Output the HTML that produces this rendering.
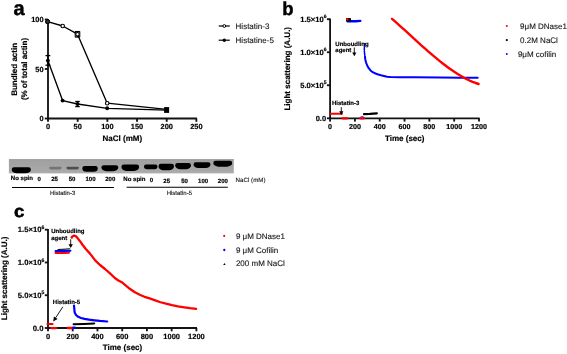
<!DOCTYPE html>
<html><head><meta charset="utf-8"><style>
html,body{margin:0;padding:0;background:#fff;width:567px;height:354px;overflow:hidden}
svg{display:block;will-change:transform;font-family:"Liberation Sans", sans-serif;text-rendering:geometricPrecision}
</style></head><body>
<svg width="567" height="354" viewBox="0 0 567 354">
<text x="13.6" y="15.3" font-size="20" font-weight="bold" text-anchor="start" fill="#000" stroke="#000" stroke-width="0.45">a</text>
<line x1="48.0" y1="18.9" x2="48.0" y2="119.1" stroke="#131313" stroke-width="1.85" />
<line x1="47.4" y1="118.5" x2="196.97499999999997" y2="118.5" stroke="#131313" stroke-width="1.85" />
<line x1="44.8" y1="118.5" x2="48.0" y2="118.5" stroke="#131313" stroke-width="1.85" />
<text x="43.6" y="121.2" font-size="7.4" font-weight="bold" text-anchor="end" fill="#000"  stroke="#000" stroke-width="0.18">0</text>
<line x1="44.8" y1="69.0" x2="48.0" y2="69.0" stroke="#131313" stroke-width="1.85" />
<text x="43.6" y="71.7" font-size="7.4" font-weight="bold" text-anchor="end" fill="#000"  stroke="#000" stroke-width="0.18">50</text>
<line x1="44.8" y1="19.5" x2="48.0" y2="19.5" stroke="#131313" stroke-width="1.85" />
<text x="43.6" y="22.2" font-size="7.4" font-weight="bold" text-anchor="end" fill="#000"  stroke="#000" stroke-width="0.18">100</text>
<line x1="48.0" y1="118.5" x2="48.0" y2="121.8" stroke="#131313" stroke-width="1.85" />
<text x="48.0" y="128.9" font-size="7.4" font-weight="bold" text-anchor="middle" fill="#000"  stroke="#000" stroke-width="0.18">0</text>
<line x1="77.675" y1="118.5" x2="77.675" y2="121.8" stroke="#131313" stroke-width="1.85" />
<text x="77.675" y="128.9" font-size="7.4" font-weight="bold" text-anchor="middle" fill="#000"  stroke="#000" stroke-width="0.18">50</text>
<line x1="107.35" y1="118.5" x2="107.35" y2="121.8" stroke="#131313" stroke-width="1.85" />
<text x="107.35" y="128.9" font-size="7.4" font-weight="bold" text-anchor="middle" fill="#000"  stroke="#000" stroke-width="0.18">100</text>
<line x1="137.02499999999998" y1="118.5" x2="137.02499999999998" y2="121.8" stroke="#131313" stroke-width="1.85" />
<text x="137.02499999999998" y="128.9" font-size="7.4" font-weight="bold" text-anchor="middle" fill="#000"  stroke="#000" stroke-width="0.18">150</text>
<line x1="166.7" y1="118.5" x2="166.7" y2="121.8" stroke="#131313" stroke-width="1.85" />
<text x="166.7" y="128.9" font-size="7.4" font-weight="bold" text-anchor="middle" fill="#000"  stroke="#000" stroke-width="0.18">200</text>
<line x1="196.37499999999997" y1="118.5" x2="196.37499999999997" y2="121.8" stroke="#131313" stroke-width="1.85" />
<text x="196.37499999999997" y="128.9" font-size="7.4" font-weight="bold" text-anchor="middle" fill="#000"  stroke="#000" stroke-width="0.18">250</text>
<text x="122.3" y="140.6" font-size="8" font-weight="bold" text-anchor="middle" fill="#000"  stroke="#000" stroke-width="0.18">NaCl (mM)</text>
<text transform="translate(17.3,69.4) rotate(-90)" font-size="8" font-weight="bold" text-anchor="middle" stroke="#000" stroke-width="0.18">Bundled actin</text>
<text transform="translate(27.0,69.0) rotate(-90)" font-size="8" font-weight="bold" text-anchor="middle" stroke="#000" stroke-width="0.18">(% of total actin)</text>
<polyline points="47.60,21.70 62.70,26.00 77.50,34.20 107.20,103.20 166.60,109.40" fill="none" stroke="#000" stroke-width="1.35" stroke-linejoin="round" stroke-linecap="round" />
<polyline points="47.90,60.60 62.60,100.60 77.50,104.00 107.20,108.30 166.60,110.20" fill="none" stroke="#000" stroke-width="1.35" stroke-linejoin="round" stroke-linecap="round" />
<line x1="47.9" y1="55.6" x2="47.9" y2="65.2" stroke="#000" stroke-width="1.3" />
<line x1="45.5" y1="55.6" x2="50.3" y2="55.6" stroke="#000" stroke-width="1.3" />
<line x1="45.5" y1="65.2" x2="50.3" y2="65.2" stroke="#000" stroke-width="1.3" />
<line x1="77.5" y1="101.5" x2="77.5" y2="106.6" stroke="#000" stroke-width="1.3" />
<line x1="75.25" y1="101.5" x2="79.75" y2="101.5" stroke="#000" stroke-width="1.3" />
<line x1="75.25" y1="106.6" x2="79.75" y2="106.6" stroke="#000" stroke-width="1.3" />
<line x1="77.5" y1="31.6" x2="77.5" y2="37.0" stroke="#000" stroke-width="1.3" />
<line x1="75.1" y1="31.6" x2="79.9" y2="31.6" stroke="#000" stroke-width="1.3" />
<line x1="75.1" y1="37.0" x2="79.9" y2="37.0" stroke="#000" stroke-width="1.3" />
<line x1="75.2" y1="31.4" x2="75.2" y2="37.2" stroke="#000" stroke-width="1.0" />
<line x1="79.8" y1="31.4" x2="79.8" y2="37.2" stroke="#000" stroke-width="1.0" />
<circle cx="47.6" cy="21.7" r="1.75" fill="#fff" stroke="#000" stroke-width="1.15"/>
<circle cx="62.7" cy="26.0" r="1.75" fill="#fff" stroke="#000" stroke-width="1.15"/>
<circle cx="77.5" cy="34.2" r="1.75" fill="#fff" stroke="#000" stroke-width="1.15"/>
<circle cx="107.2" cy="103.2" r="1.75" fill="#fff" stroke="#000" stroke-width="1.15"/>
<circle cx="47.6" cy="21.7" r="2.0" fill="#333" stroke="#000" stroke-width="1"/>
<circle cx="47.9" cy="60.6" r="1.95" fill="#000"/>
<circle cx="62.6" cy="100.6" r="1.95" fill="#000"/>
<circle cx="77.5" cy="104.0" r="1.95" fill="#000"/>
<circle cx="107.2" cy="108.3" r="1.95" fill="#000"/>
<rect x="164.1" y="107.1" width="5.0" height="5.8" fill="#000"/>
<line x1="218.7" y1="26" x2="229.8" y2="26" stroke="#000" stroke-width="1.2" />
<circle cx="224.3" cy="26" r="1.4" fill="#fff" stroke="#000" stroke-width="1.0"/>
<line x1="218.7" y1="40.2" x2="229.8" y2="40.2" stroke="#000" stroke-width="1.2" />
<circle cx="224.3" cy="40.2" r="1.7" fill="#000"/>
<text x="235.6" y="29.1" font-size="8" font-weight="normal" text-anchor="start" fill="#151515"  stroke="#151515" stroke-width="0.12">Histatin-3</text>
<text x="235.6" y="42.8" font-size="8" font-weight="normal" text-anchor="start" fill="#151515"  stroke="#151515" stroke-width="0.12">Histatine-5</text>
<defs><filter id="gb" x="-20%" y="-50%" width="140%" height="200%"><feGaussianBlur stdDeviation="0.75"/></filter><linearGradient id="gg" x1="0" y1="0" x2="0" y2="1"><stop offset="0" stop-color="#959595"/><stop offset="0.12" stop-color="#a2a2a2"/><stop offset="0.3" stop-color="#a2a2a2"/><stop offset="0.85" stop-color="#a9a9a9"/><stop offset="1" stop-color="#aeaeae"/></linearGradient></defs>
<rect x="8.9" y="159.1" width="224.9" height="14.3" fill="url(#gg)"/>
<g filter="url(#gb)">
<path d="M14.10,167.30 L28.50,167.30 Q30.90,167.30 30.90,169.70 A5.38,3.65 0 0 1 25.52,173.35 L17.08,173.35 A5.38,3.65 0 0 1 11.70,169.70 Q11.70,167.30 14.10,167.30 Z" fill="#050505"/>
<path d="M50.16,166.80 L60.54,166.80 Q61.60,166.80 61.60,167.86 A2.00,1.59 0 0 1 59.60,169.45 L51.10,169.45 A2.00,1.59 0 0 1 49.10,167.86 Q49.10,166.80 50.16,166.80 Z" fill="#757575"/>
<path d="M67.54,166.70 L77.76,166.70 Q78.90,166.70 78.90,167.84 A2.00,1.71 0 0 1 76.90,169.55 L68.40,169.55 A2.00,1.71 0 0 1 66.40,167.84 Q66.40,166.70 67.54,166.70 Z" fill="#505050"/>
<path d="M84.68,165.90 L95.42,165.90 Q97.80,165.90 97.80,168.28 A4.34,3.57 0 0 1 93.46,171.85 L86.64,171.85 A4.34,3.57 0 0 1 82.30,168.28 Q82.30,165.90 84.68,165.90 Z" fill="#050505"/>
<path d="M103.78,165.20 L115.92,165.20 Q118.30,165.20 118.30,167.58 A4.73,3.57 0 0 1 113.57,171.15 L106.13,171.15 A4.73,3.57 0 0 1 101.40,167.58 Q101.40,165.20 103.78,165.20 Z" fill="#050505"/>
<path d="M123.80,164.60 L136.70,164.60 Q139.10,164.60 139.10,167.00 A4.96,3.95 0 0 1 134.14,170.95 L126.36,170.95 A4.96,3.95 0 0 1 121.40,167.00 Q121.40,164.60 123.80,164.60 Z" fill="#050505"/>
<path d="M145.82,164.60 L155.68,164.60 Q157.50,164.60 157.50,166.42 A3.00,2.73 0 0 1 154.50,169.15 L147.00,169.15 A3.00,2.73 0 0 1 144.00,166.42 Q144.00,164.60 145.82,164.60 Z" fill="#050505"/>
<path d="M160.90,163.80 L171.60,163.80 Q174.00,163.80 174.00,166.20 A4.34,3.95 0 0 1 169.66,170.15 L162.84,170.15 A4.34,3.95 0 0 1 158.50,166.20 Q158.50,163.80 160.90,163.80 Z" fill="#050505"/>
<path d="M177.60,162.90 L188.60,162.90 Q191.00,162.90 191.00,165.30 A4.42,3.85 0 0 1 186.58,169.15 L179.62,169.15 A4.42,3.85 0 0 1 175.20,165.30 Q175.20,162.90 177.60,162.90 Z" fill="#050505"/>
<path d="M195.80,162.20 L208.20,162.20 Q210.50,162.20 210.50,164.50 A4.76,3.45 0 0 1 205.74,167.95 L198.26,167.95 A4.76,3.45 0 0 1 193.50,164.50 Q193.50,162.20 195.80,162.20 Z" fill="#050505"/>
<path d="M215.64,160.80 L229.86,160.80 Q232.20,160.80 232.20,163.14 A5.29,3.51 0 0 1 226.91,166.65 L218.59,166.65 A5.29,3.51 0 0 1 213.30,163.14 Q213.30,160.80 215.64,160.80 Z" fill="#050505"/>
</g>
<text x="21.9" y="180.2" font-size="6.05" font-weight="bold" text-anchor="middle" fill="#000"  stroke="#000" stroke-width="0.18">No spin</text>
<text x="39.3" y="180.8" font-size="6.05" font-weight="bold" text-anchor="middle" fill="#000"  stroke="#000" stroke-width="0.18">0</text>
<text x="54.5" y="181.4" font-size="6.05" font-weight="bold" text-anchor="middle" fill="#000"  stroke="#000" stroke-width="0.18">25</text>
<text x="72.1" y="181.4" font-size="6.05" font-weight="bold" text-anchor="middle" fill="#000"  stroke="#000" stroke-width="0.18">50</text>
<text x="90.5" y="181.4" font-size="6.05" font-weight="bold" text-anchor="middle" fill="#000"  stroke="#000" stroke-width="0.18">100</text>
<text x="110.3" y="181.4" font-size="6.05" font-weight="bold" text-anchor="middle" fill="#000"  stroke="#000" stroke-width="0.18">200</text>
<text x="134.4" y="180.8" font-size="6.05" font-weight="bold" text-anchor="middle" fill="#000"  stroke="#000" stroke-width="0.18">No spin</text>
<text x="151.4" y="181.5" font-size="6.05" font-weight="bold" text-anchor="middle" fill="#000"  stroke="#000" stroke-width="0.18">0</text>
<text x="166.7" y="182.5" font-size="6.05" font-weight="bold" text-anchor="middle" fill="#000"  stroke="#000" stroke-width="0.18">25</text>
<text x="184.5" y="182.5" font-size="6.05" font-weight="bold" text-anchor="middle" fill="#000"  stroke="#000" stroke-width="0.18">50</text>
<text x="203.1" y="182.5" font-size="6.05" font-weight="bold" text-anchor="middle" fill="#000"  stroke="#000" stroke-width="0.18">100</text>
<text x="222.9" y="182.5" font-size="6.05" font-weight="bold" text-anchor="middle" fill="#000"  stroke="#000" stroke-width="0.18">200</text>
<text x="235.6" y="182.2" font-size="6.2" font-weight="normal" text-anchor="start" fill="#151515"  stroke="#151515" stroke-width="0.12">NaCl (mM)</text>
<line x1="12" y1="187.5" x2="113.9" y2="187.5" stroke="#000" stroke-width="1.1" />
<line x1="126.6" y1="187.3" x2="227.8" y2="187.3" stroke="#000" stroke-width="1.1" />
<text x="62.6" y="195.2" font-size="6" font-weight="normal" text-anchor="middle" fill="#151515"  stroke="#151515" stroke-width="0.12">Histatin-3</text>
<text x="179.3" y="195.2" font-size="6" font-weight="normal" text-anchor="middle" fill="#151515"  stroke="#151515" stroke-width="0.12">Histatin-5</text>
<text x="282.2" y="14.7" font-size="18.5" font-weight="bold" text-anchor="start" fill="#000" stroke="#000" stroke-width="0.45">b</text>
<line x1="330.1" y1="18.599999999999998" x2="330.1" y2="118.89999999999999" stroke="#131313" stroke-width="1.85" />
<line x1="329.5" y1="118.3" x2="479.6" y2="118.3" stroke="#131313" stroke-width="1.85" />
<line x1="326.90000000000003" y1="19.19999999999999" x2="330.1" y2="19.19999999999999" stroke="#131313" stroke-width="1.85" />
<text x="326.5" y="21.69999999999999" font-size="7.6" font-weight="bold" text-anchor="end" stroke="#000" stroke-width="0.18">1.5×10<tspan font-size="5.02" dy="-3.5">6</tspan></text>
<line x1="326.90000000000003" y1="52.233333333333334" x2="330.1" y2="52.233333333333334" stroke="#131313" stroke-width="1.85" />
<text x="326.5" y="54.733333333333334" font-size="7.6" font-weight="bold" text-anchor="end" stroke="#000" stroke-width="0.18">1.0×10<tspan font-size="5.02" dy="-3.5">6</tspan></text>
<line x1="326.90000000000003" y1="85.26666666666667" x2="330.1" y2="85.26666666666667" stroke="#131313" stroke-width="1.85" />
<text x="326.5" y="87.76666666666667" font-size="7.6" font-weight="bold" text-anchor="end" stroke="#000" stroke-width="0.18">5.0×10<tspan font-size="5.02" dy="-3.5">5</tspan></text>
<line x1="326.90000000000003" y1="118.3" x2="330.1" y2="118.3" stroke="#131313" stroke-width="1.85" />
<text x="326.1" y="121.1" font-size="7.5" font-weight="bold" text-anchor="end" fill="#000"  stroke="#000" stroke-width="0.18">0.0</text>
<line x1="330.1" y1="118.3" x2="330.1" y2="121.6" stroke="#131313" stroke-width="1.85" />
<text x="330.1" y="129.3" font-size="7.2" font-weight="bold" text-anchor="middle" fill="#000"  stroke="#000" stroke-width="0.18">0</text>
<line x1="354.9166666666667" y1="118.3" x2="354.9166666666667" y2="121.6" stroke="#131313" stroke-width="1.85" />
<text x="354.9166666666667" y="129.3" font-size="7.2" font-weight="bold" text-anchor="middle" fill="#000"  stroke="#000" stroke-width="0.18">200</text>
<line x1="379.73333333333335" y1="118.3" x2="379.73333333333335" y2="121.6" stroke="#131313" stroke-width="1.85" />
<text x="379.73333333333335" y="129.3" font-size="7.2" font-weight="bold" text-anchor="middle" fill="#000"  stroke="#000" stroke-width="0.18">400</text>
<line x1="404.55" y1="118.3" x2="404.55" y2="121.6" stroke="#131313" stroke-width="1.85" />
<text x="404.55" y="129.3" font-size="7.2" font-weight="bold" text-anchor="middle" fill="#000"  stroke="#000" stroke-width="0.18">600</text>
<line x1="429.3666666666667" y1="118.3" x2="429.3666666666667" y2="121.6" stroke="#131313" stroke-width="1.85" />
<text x="429.3666666666667" y="129.3" font-size="7.2" font-weight="bold" text-anchor="middle" fill="#000"  stroke="#000" stroke-width="0.18">800</text>
<line x1="454.18333333333334" y1="118.3" x2="454.18333333333334" y2="121.6" stroke="#131313" stroke-width="1.85" />
<text x="454.18333333333334" y="129.3" font-size="7.2" font-weight="bold" text-anchor="middle" fill="#000"  stroke="#000" stroke-width="0.18">1000</text>
<line x1="479.0" y1="118.3" x2="479.0" y2="121.6" stroke="#131313" stroke-width="1.85" />
<text x="479.0" y="129.3" font-size="7.2" font-weight="bold" text-anchor="middle" fill="#000"  stroke="#000" stroke-width="0.18">1200</text>
<text x="404.7" y="140.5" font-size="8" font-weight="bold" text-anchor="middle" fill="#000"  stroke="#000" stroke-width="0.18">Time (sec)</text>
<text transform="translate(290.3,68.75) rotate(-90)" font-size="8" font-weight="bold" text-anchor="middle" stroke="#000" stroke-width="0.18">Light scattering (A.U.)</text>
<polyline points="330.60,113.80 341.90,113.80" fill="none" stroke="#f00" stroke-width="2.1" stroke-linejoin="round" stroke-linecap="round" stroke-linecap="butt"/>
<polyline points="342.60,118.30 347.20,118.30" fill="none" stroke="#f00" stroke-width="2.2" stroke-linejoin="round" stroke-linecap="round" stroke-linecap="round"/>
<polyline points="360.40,118.30 363.60,118.30" fill="none" stroke="#f00" stroke-width="2.5" stroke-linejoin="round" stroke-linecap="round" stroke-linecap="round"/>
<polyline points="361.20,116.70 363.00,116.70" fill="none" stroke="#5050ff" stroke-width="1.3" stroke-linejoin="round" stroke-linecap="round" stroke-linecap="round"/>
<polyline points="364.00,114.10 370.00,113.90 376.80,113.40" fill="none" stroke="#000" stroke-width="2.2" stroke-linejoin="round" stroke-linecap="round" />
<polyline points="347.60,21.30 356.00,21.20 360.30,20.90" fill="none" stroke="#00f" stroke-width="2.4" stroke-linejoin="round" stroke-linecap="round" stroke-linecap="round"/>
<rect x="346" y="18" width="5" height="3.4" rx="0.6" fill="#000"/>
<circle cx="347.3" cy="19.3" r="1.2" fill="#f00"/>
<polyline points="365.00,57.00 365.40,60.00 366.10,62.60 367.20,65.50 368.70,68.20 370.50,70.40 372.70,72.20 375.50,73.50 378.30,74.50 381.00,75.30 384.00,76.00 387.00,76.70 390.30,77.10 400.00,77.30 415.00,77.30 440.00,77.50 460.00,77.70 477.70,77.80" fill="none" stroke="#00f" stroke-width="2.0" stroke-linejoin="round" stroke-linecap="round" />
<polyline points="365.00,43.60 364.50,46.00 364.30,49.00 364.40,52.00 364.80,55.00 365.00,57.50" fill="none" stroke="#00f" stroke-width="1.6" stroke-linejoin="round" stroke-linecap="round" stroke-dasharray="1.5 0.9" stroke-linecap="butt"/>
<polyline points="392.00,18.84 394.99,21.45 397.97,24.10 400.96,26.78 403.94,29.48 406.93,32.20 409.92,34.92 412.90,37.65 415.89,40.37 418.88,43.08 421.86,45.77 424.85,48.43 427.83,51.06 430.82,53.65 433.81,56.19 436.79,58.68 439.78,61.11 442.77,63.47 445.75,65.76 448.74,67.96 451.72,70.08 454.71,72.10 457.70,74.01 460.68,75.82 463.67,77.52 466.66,79.09 469.64,80.53 472.63,81.83 475.61,82.99 478.60,83.99" fill="none" stroke="#f00" stroke-width="2.4" stroke-linejoin="round" stroke-linecap="round" />
<text x="335.3" y="45.6" font-size="6" font-weight="bold" text-anchor="start" fill="#000"  stroke="#000" stroke-width="0.18">Unboudling</text>
<text x="335.3" y="52.2" font-size="6" font-weight="bold" text-anchor="start" fill="#000"  stroke="#000" stroke-width="0.18">agent</text>
<line x1="354.3" y1="47.5" x2="354.3" y2="53.5" stroke="#000" stroke-width="0.9" />
<path d="M352.2,52.5 L356.4,52.5 L354.3,56.2 Z" fill="#000"/>
<text x="332" y="104.8" font-size="6" font-weight="bold" text-anchor="start" fill="#000"  stroke="#000" stroke-width="0.18">Histatin-3</text>
<line x1="341.3" y1="107.2" x2="341.3" y2="112" stroke="#000" stroke-width="0.9" />
<path d="M339.2,111.3 L343.4,111.3 L341.3,115 Z" fill="#000"/>
<circle cx="506.8" cy="25.9" r="1.0" fill="#f00"/>
<circle cx="506.8" cy="40.1" r="1.1" fill="#000"/>
<circle cx="506.8" cy="54.0" r="0.95" fill="#00f"/>
<text x="520.1" y="29.0" font-size="8" font-weight="normal" text-anchor="start" fill="#151515"  stroke="#151515" stroke-width="0.12">9μM DNase1</text>
<text x="520.1" y="42.8" font-size="8" font-weight="normal" text-anchor="start" fill="#151515"  stroke="#151515" stroke-width="0.12">0.2M NaCl</text>
<text x="517.9" y="56.6" font-size="8" font-weight="normal" text-anchor="start" fill="#151515"  stroke="#151515" stroke-width="0.12">9μM cofilin</text>
<text x="14.0" y="217.2" font-size="17" font-weight="bold" stroke="#000" stroke-width="0.55" transform="translate(14,0) scale(1.1,1) translate(-14,0)">c</text>
<line x1="48.0" y1="229.1" x2="48.0" y2="328.6" stroke="#131313" stroke-width="1.85" />
<line x1="47.4" y1="328.0" x2="197.0" y2="328.0" stroke="#131313" stroke-width="1.85" />
<line x1="44.8" y1="229.7" x2="48.0" y2="229.7" stroke="#131313" stroke-width="1.85" />
<text x="44.4" y="232.29999999999998" font-size="7.7" font-weight="bold" text-anchor="end" stroke="#000" stroke-width="0.18">1.5×10<tspan font-size="5.08" dy="-3.5">6</tspan></text>
<line x1="44.8" y1="262.46666666666664" x2="48.0" y2="262.46666666666664" stroke="#131313" stroke-width="1.85" />
<text x="44.4" y="265.06666666666666" font-size="7.7" font-weight="bold" text-anchor="end" stroke="#000" stroke-width="0.18">1.0×10<tspan font-size="5.08" dy="-3.5">6</tspan></text>
<line x1="44.8" y1="295.23333333333335" x2="48.0" y2="295.23333333333335" stroke="#131313" stroke-width="1.85" />
<text x="44.4" y="297.83333333333337" font-size="7.7" font-weight="bold" text-anchor="end" stroke="#000" stroke-width="0.18">5.0×10<tspan font-size="5.08" dy="-3.5">5</tspan></text>
<line x1="44.8" y1="328.0" x2="48.0" y2="328.0" stroke="#131313" stroke-width="1.85" />
<text x="43.5" y="330.8" font-size="7.7" font-weight="bold" text-anchor="end" fill="#000"  stroke="#000" stroke-width="0.18">0.0</text>
<line x1="48.0" y1="328.0" x2="48.0" y2="331.3" stroke="#131313" stroke-width="1.85" />
<text x="48.0" y="338.7" font-size="7.5" font-weight="bold" text-anchor="middle" fill="#000"  stroke="#000" stroke-width="0.18">0</text>
<line x1="72.73333333333333" y1="328.0" x2="72.73333333333333" y2="331.3" stroke="#131313" stroke-width="1.85" />
<text x="72.73333333333333" y="338.7" font-size="7.5" font-weight="bold" text-anchor="middle" fill="#000"  stroke="#000" stroke-width="0.18">200</text>
<line x1="97.46666666666667" y1="328.0" x2="97.46666666666667" y2="331.3" stroke="#131313" stroke-width="1.85" />
<text x="97.46666666666667" y="338.7" font-size="7.5" font-weight="bold" text-anchor="middle" fill="#000"  stroke="#000" stroke-width="0.18">400</text>
<line x1="122.2" y1="328.0" x2="122.2" y2="331.3" stroke="#131313" stroke-width="1.85" />
<text x="122.2" y="338.7" font-size="7.5" font-weight="bold" text-anchor="middle" fill="#000"  stroke="#000" stroke-width="0.18">600</text>
<line x1="146.93333333333334" y1="328.0" x2="146.93333333333334" y2="331.3" stroke="#131313" stroke-width="1.85" />
<text x="146.93333333333334" y="338.7" font-size="7.5" font-weight="bold" text-anchor="middle" fill="#000"  stroke="#000" stroke-width="0.18">800</text>
<line x1="171.66666666666669" y1="328.0" x2="171.66666666666669" y2="331.3" stroke="#131313" stroke-width="1.85" />
<text x="171.66666666666669" y="338.7" font-size="7.5" font-weight="bold" text-anchor="middle" fill="#000"  stroke="#000" stroke-width="0.18">1000</text>
<line x1="196.4" y1="328.0" x2="196.4" y2="331.3" stroke="#131313" stroke-width="1.85" />
<text x="196.4" y="338.7" font-size="7.5" font-weight="bold" text-anchor="middle" fill="#000"  stroke="#000" stroke-width="0.18">1200</text>
<text x="122.5" y="349.6" font-size="8" font-weight="bold" text-anchor="middle" fill="#000"  stroke="#000" stroke-width="0.18">Time (sec)</text>
<text transform="translate(7.1,278.4) rotate(-90)" font-size="8" font-weight="bold" text-anchor="middle" stroke="#000" stroke-width="0.18">Light scattering (A.U.)</text>
<polyline points="47.40,323.90 52.60,323.90" fill="none" stroke="#f00" stroke-width="2.0" stroke-linejoin="round" stroke-linecap="round" stroke-linecap="round"/>
<polyline points="51.20,328.10 56.20,328.10" fill="none" stroke="#f00" stroke-width="2.1" stroke-linejoin="round" stroke-linecap="round" stroke-linecap="round"/>
<polyline points="67.80,328.00 72.80,328.00" fill="none" stroke="#f00" stroke-width="2.3" stroke-linejoin="round" stroke-linecap="round" stroke-linecap="round"/>
<polyline points="73.40,327.80 74.80,327.80" fill="none" stroke="#00f" stroke-width="2.4" stroke-linejoin="round" stroke-linecap="round" stroke-linecap="round"/>
<polyline points="73.60,324.20 84.00,323.90 94.20,323.40" fill="none" stroke="#000" stroke-width="2.0" stroke-linejoin="round" stroke-linecap="round" />
<polyline points="74.00,305.50 74.30,309.00 74.70,312.60 76.00,315.00 78.20,316.80 81.00,318.00 84.60,318.90 89.00,319.70 94.50,320.30 100.00,320.90 107.20,321.50" fill="none" stroke="#00f" stroke-width="2.2" stroke-linejoin="round" stroke-linecap="round" />
<polyline points="55.60,252.80 60.00,252.90 64.00,252.80 68.80,252.70" fill="none" stroke="#f00" stroke-width="2.3" stroke-linejoin="round" stroke-linecap="round" />
<polyline points="55.60,251.00 60.00,251.00 64.00,250.90 70.40,250.80" fill="none" stroke="#00f" stroke-width="2.1" stroke-linejoin="round" stroke-linecap="round" />
<polyline points="58.00,249.50 64.00,249.20 69.80,248.80" fill="none" stroke="#000" stroke-width="1.0" stroke-linejoin="round" stroke-linecap="round" />
<polyline points="71.70,237.50 72.60,236.20 74.10,235.60 75.60,236.00 77.40,237.90 80.00,241.20 82.70,245.00 86.00,249.30 89.80,253.40 95.40,260.60 100.00,265.00 105.00,269.00 110.00,273.40 114.90,278.00 118.00,280.20 121.80,282.20 125.00,284.90 129.80,288.80 134.50,292.00 139.70,294.80 144.50,296.80 149.60,298.40 154.50,300.20 159.70,302.00 166.00,303.70 172.00,305.10 178.00,306.30 184.40,307.30 190.00,308.10 196.10,308.80" fill="none" stroke="#f00" stroke-width="2.3" stroke-linejoin="round" stroke-linecap="round" />
<text x="51.2" y="233.0" font-size="6" font-weight="bold" text-anchor="start" fill="#000"  stroke="#000" stroke-width="0.18">Unboudling</text>
<text x="51.2" y="240.2" font-size="6" font-weight="bold" text-anchor="start" fill="#000"  stroke="#000" stroke-width="0.18">agent</text>
<line x1="70.7" y1="239.3" x2="70.7" y2="245.0" stroke="#000" stroke-width="0.9" />
<path d="M68.5,244.3 L72.9,244.3 L70.7,248.1 Z" fill="#000"/>
<text x="52.8" y="304.0" font-size="6" font-weight="bold" text-anchor="start" fill="#000"  stroke="#000" stroke-width="0.18">Histatin-5</text>
<line x1="62.8" y1="306.9" x2="55.6" y2="317.8" stroke="#000" stroke-width="0.9" />
<path d="M53.2,321.6 L53.9,316.4 L57.6,318.9 Z" fill="#000"/>
<circle cx="224.2" cy="235.9" r="1.05" fill="#f00"/>
<circle cx="224.3" cy="250.0" r="1.15" fill="#00f"/>
<path d="M223.2,265.0 L225.6,265.0 L224.4,262.9 Z" fill="#000"/>
<text x="235.9" y="239.3" font-size="8" font-weight="normal" text-anchor="start" fill="#151515"  stroke="#151515" stroke-width="0.12">9 μM DNase1</text>
<text x="235.9" y="252.8" font-size="8" font-weight="normal" text-anchor="start" fill="#151515"  stroke="#151515" stroke-width="0.12">9 μM Cofilin</text>
<text x="235.9" y="266.2" font-size="8" font-weight="normal" text-anchor="start" fill="#151515"  stroke="#151515" stroke-width="0.12">200 mM NaCl</text>
</svg>
</body></html>
